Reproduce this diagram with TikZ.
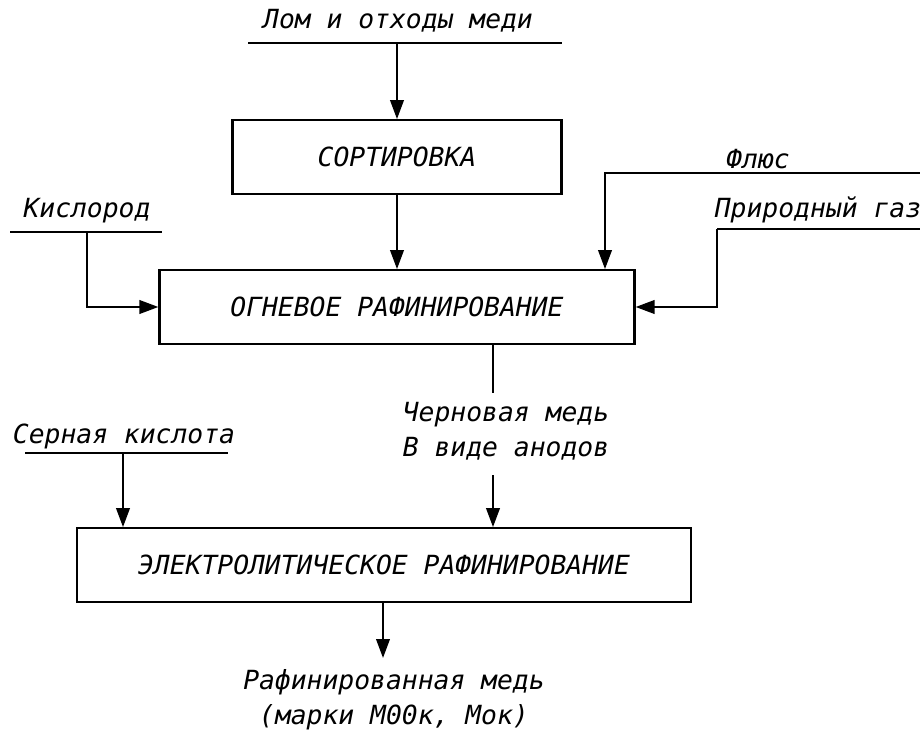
\documentclass[tikz,border=0pt]{standalone}
\usepackage{fontspec}
\setmainfont{DejaVu Sans Mono}
\usetikzlibrary{positioning,arrows.meta}

\begin{document}
\begin{tikzpicture}[
        x=0.02cm, y=-0.02cm,
        font=\fontsize{15}{20}\selectfont\itshape,
        stage/.style={
            rectangle,
            draw=black,
            line width=1.3pt,
            align=center,
            inner sep=0pt,
            minimum height=1.47cm
        },
        feed/.style={
            draw=none,
            fill=none,
            inner sep=1pt,
            align=center
        },
        flow/.style={
            -{Triangle[length=0.38cm,width=0.27cm]},
            line width=1.3pt
        },
        bar/.style={
            line width=1.3pt
        }
    ]
        \useasboundingbox (0,0) rectangle (920,733);

        % Stages
        \node[stage, minimum width=6.58cm] (sort) at (397,157) {СОРТИРОВКА};
        \node[stage, minimum width=9.5cm] (fire) at (397,307) {ОГНЕВОЕ РАФИНИРОВАНИЕ};
        \node[stage, minimum width=12.28cm] (elec) at (384,565) {ЭЛЕКТРОЛИТИЧЕСКОЕ РАФИНИРОВАНИЕ};

        % Scrap
        \node[feed] (scrap) at (398,21) {Лом и отходы меди};
        \coordinate (scrapL) at (248,43);
        \coordinate (scrapR) at (562,43);
        \draw[bar] (scrapL) -- (scrapR);
        \draw[flow] (scrapL -| sort) -- (sort.north);
        \draw[flow] (sort.south) -- (fire.north);

        % Oxygen
        \node[feed] (oxy) at (87,211) {Кислород};
        \coordinate (oxyL) at (10,232);
        \coordinate (oxyR) at (162,232);
        \draw[bar] (oxyL) -- (oxyR);
        \draw[flow] (oxyL -| oxy) |- (fire.west);

        % Flux
        \node[feed] (flux) at (758,159) {Флюс};
        \coordinate (fluxE) at (920,173);
        \coordinate (fluxD) at (605,173);
        \draw[flow] (fluxE) -- (fluxD) -- (fluxD |- fire.north);

        % Natural gas
        \node[feed] (gas) at (818,210) {Природный газ};
        \coordinate (gasL) at (717,229);
        \coordinate (gasR) at (920,229);
        \draw[bar] (gasL) -- (gasR);
        \draw[flow] (gasL) |- (fire.east);

        % Blister copper
        \node[feed] (crude) at (506,431) {Черновая медь\\В виде анодов};
        \coordinate (crudeA) at (493,393);
        \coordinate (crudeB) at (493,475);
        \draw[bar] (fire.south -| crudeA) -- (crudeA);
        \draw[flow] (crudeB) -- (crudeB |- elec.north);

        % Sulphuric acid
        \node[feed] (acid) at (124,436) {Серная кислота};
        \coordinate (acidL) at (25,453);
        \coordinate (acidR) at (228,453);
        \coordinate (acidD) at (123,453);
        \draw[bar] (acidL) -- (acidR);
        \draw[flow] (acidD) -- (acidD |- elec.north);

        % Product
        \node[feed] (cathode) at (394,700) {Рафинированная медь\\(марки М00к, Мок)};
        \coordinate (outA) at (383,658);
        \draw[flow] (elec.south -| outA) -- (outA);
    \end{tikzpicture}
\end{document}
